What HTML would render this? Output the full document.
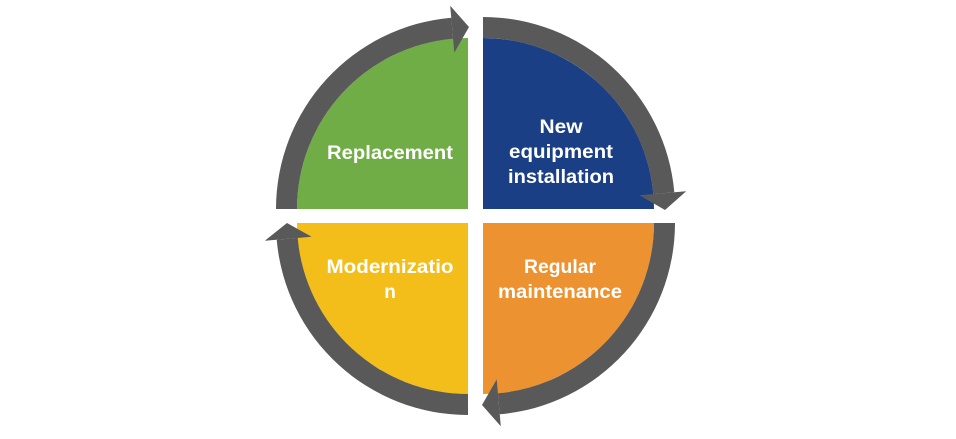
<!DOCTYPE html>
<html><head><meta charset="utf-8"><style>
html,body{margin:0;padding:0;background:#fff;width:956px;height:439px;overflow:hidden}
svg text{font-family:"Liberation Sans",Arial,sans-serif;font-weight:bold;fill:#fff;font-size:19px}
</style></head><body>
<svg width="956" height="439" viewBox="0 0 956 439" xmlns="http://www.w3.org/2000/svg">
<!-- quadrants -->
<path d="M468,209 L297,209 A171 171 0 0 1 468,38 Z" fill="#70AD47"/>
<path d="M483,209 L483,38 A171 171 0 0 1 654,209 Z" fill="#1B3F85"/>
<path d="M483,223 L654,223 A171 171 0 0 1 483,394 Z" fill="#ED9231"/>
<path d="M468,223 L468,394 A171 171 0 0 1 297,223 Z" fill="#F4BE1A"/>
<!-- rings -->
<g fill="#595959">
<path d="M276,209 A192 192 0 0 1 451.3,17.7 L453.1,38.7 A171 171 0 0 0 297,209 Z"/>
<polygon points="454.3,52.6 450.2,5.8 469,27"/>
<path d="M483,17 A192 192 0 0 1 674.3,192.3 L653.3,194.1 A171 171 0 0 0 483,38 Z"/>
<polygon points="639.4,195.3 686.2,191.2 665,210"/>
<path d="M675,223 A192 192 0 0 1 499.7,414.3 L497.9,393.3 A171 171 0 0 0 654,223 Z"/>
<polygon points="496.7,379.4 500.8,426.2 482,405"/>
<path d="M468,415 A192 192 0 0 1 276.7,239.7 L297.7,237.9 A171 171 0 0 0 468,394 Z"/>
<polygon points="311.6,236.7 264.8,240.8 287,223"/>
</g>
<!-- labels -->
<text x="390" y="159" text-anchor="middle" textLength="126" lengthAdjust="spacingAndGlyphs">Replacement</text>
<text x="561" y="133" text-anchor="middle" textLength="43" lengthAdjust="spacingAndGlyphs">New</text>
<text x="561" y="158" text-anchor="middle" textLength="104" lengthAdjust="spacingAndGlyphs">equipment</text>
<text x="561" y="183" text-anchor="middle" textLength="106" lengthAdjust="spacingAndGlyphs">installation</text>
<text x="560" y="273" text-anchor="middle" textLength="72" lengthAdjust="spacingAndGlyphs">Regular</text>
<text x="560" y="298" text-anchor="middle" textLength="124" lengthAdjust="spacingAndGlyphs">maintenance</text>
<text x="390" y="273" text-anchor="middle" textLength="127" lengthAdjust="spacingAndGlyphs">Modernizatio</text>
<text x="390" y="298" text-anchor="middle">n</text>
</svg>
</body></html>
